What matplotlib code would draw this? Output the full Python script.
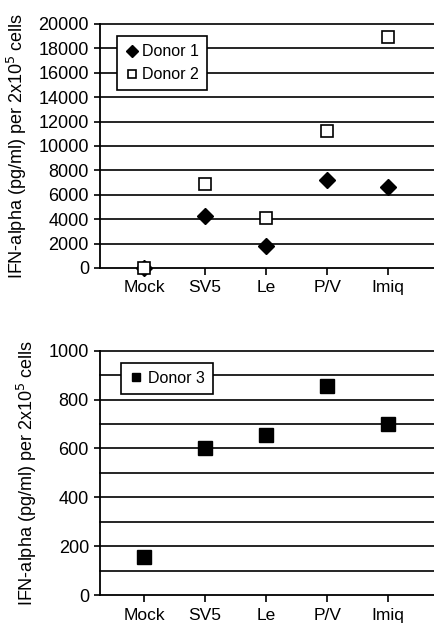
import matplotlib.pyplot as plt
import numpy as np

plt.rcParams['font.family'] = ['Liberation Sans', 'DejaVu Sans']

categories = ['Mock', 'SV5', 'Le', 'P/V', 'Imiq']
donor1 = [0, 4300, 1800, 7200, 6600]
donor2 = [0, 6900, 4100, 11200, 18900]
donor3 = [157, 600, 655, 855, 701]

ylabel = 'IFN-alpha (pg/ml) per 2x10$^5$ cells'


def style_axis(ax, ymax, grid_step, label_step):
    xs = np.arange(len(categories))
    ax.set_xlim(-0.72, 4.75)
    ax.set_ylim(0, ymax)
    ax.set_xticks(xs)
    ax.set_xticklabels(categories, fontsize=12.5)
    ax.set_yticks(np.arange(0, ymax + 1, label_step))
    ax.tick_params(axis='y', labelsize=13, length=4, width=1.2, pad=4)
    ax.tick_params(axis='x', length=5, width=1.2, pad=4)
    for y in np.arange(grid_step, ymax + 1, grid_step):
        ax.axhline(y, color='black', lw=1.2, zorder=1, clip_on=False)
    for side in ['top', 'right']:
        ax.spines[side].set_visible(False)
    ax.spines['left'].set_linewidth(1.3)
    ax.spines['bottom'].set_linewidth(1.3)
    ax.set_ylabel(ylabel, fontsize=13, labelpad=7)


fig = plt.figure(figsize=(4.34, 6.26), dpi=100)

ax1 = fig.add_axes([0.2304, 0.5719, 0.7696, 0.3898])
xs = np.arange(len(categories))
ax1.plot(xs, donor1, 'D', color='black', ms=8, label='Donor 1', zorder=3, clip_on=False)
ax1.plot(xs, donor2, 's', mfc='white', mec='black', mew=1.2, ms=8, label='Donor 2',
         zorder=4, clip_on=False)
style_axis(ax1, 20000, 2000, 2000)
leg1 = ax1.legend(loc='upper left', bbox_to_anchor=(0.05, 0.95), borderaxespad=0,
                  fontsize=11.5, frameon=True, fancybox=False, edgecolor='black',
                  framealpha=1, handletextpad=0.2, handlelength=0.9, borderpad=0.5,
                  labelspacing=0.5, markerscale=0.75)
leg1.get_frame().set_linewidth(1.2)
leg1.set_zorder(5)

ax2 = fig.add_axes([0.2304, 0.0495, 0.7696, 0.3903])
ax2.plot(xs, donor3, 's', color='black', ms=9.5, label='Donor 3', zorder=3)
style_axis(ax2, 1000, 100, 200)
leg2 = ax2.legend(loc='upper left', bbox_to_anchor=(0.063, 0.95), borderaxespad=0,
                  fontsize=11.5, frameon=True, fancybox=False, edgecolor='black',
                  framealpha=1, handletextpad=0.3, handlelength=0.9, borderpad=0.5,
                  markerscale=0.6)
leg2.get_frame().set_linewidth(1.2)
leg2.set_zorder(5)

fig.savefig('out.png', dpi=100)
